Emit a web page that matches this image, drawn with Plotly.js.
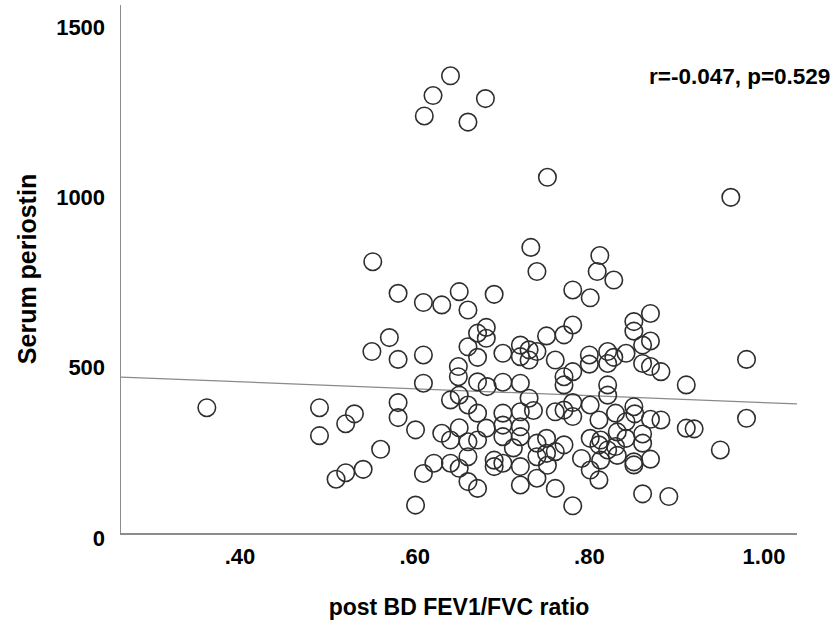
<!DOCTYPE html>
<html>
<head>
<meta charset="utf-8">
<script src="https://cdn.plot.ly/plotly-3.0.1.min.js"></script>
<style>html,body{margin:0;padding:0;background:#fff;}#chart{width:835px;height:620px;}</style>
</head>
<body>
<div id="chart"></div>
<script>
// post BD FEV1/FVC ratio
const fevRatio = [
  0.362, 0.491, 0.491, 0.521, 0.531, 0.510, 0.521, 0.541, 0.561, 0.551, 0.552, 0.571, 0.581, 0.581, 0.581, 0.581,
  0.601, 0.601, 0.610, 0.610, 0.610, 0.610, 0.611, 0.621, 0.622,
  0.631, 0.641, 0.631, 0.641, 0.641, 0.641, 0.651, 0.650, 0.650, 0.651, 0.651, 0.651, 0.661, 0.661, 0.661, 0.661, 0.661, 0.661, 0.661,
  0.672, 0.672, 0.672, 0.672, 0.672, 0.672, 0.682, 0.682, 0.683, 0.682, 0.681, 0.691, 0.691, 0.691,
  0.701, 0.701, 0.701, 0.701, 0.701, 0.701, 0.721, 0.721, 0.721, 0.721, 0.721, 0.721, 0.721, 0.721, 0.713,
  0.731, 0.731, 0.731, 0.733, 0.740, 0.740, 0.740, 0.740, 0.740, 0.751, 0.751, 0.751, 0.752, 0.761, 0.761, 0.761, 0.761, 0.736, 0.752,
  0.771, 0.771, 0.771, 0.771, 0.771, 0.781, 0.781, 0.781, 0.781, 0.781, 0.781, 0.791,
  0.801, 0.800, 0.800, 0.801, 0.801, 0.801, 0.809, 0.812, 0.811, 0.811, 0.811, 0.813, 0.813, 0.821, 0.821, 0.821, 0.821, 0.821, 0.828, 0.828, 0.830, 0.830, 0.832, 0.832,
  0.842, 0.842, 0.842, 0.851, 0.851, 0.851, 0.851, 0.851, 0.861, 0.861, 0.861, 0.861, 0.861, 0.870, 0.870, 0.870, 0.870, 0.870, 0.882, 0.882, 0.891, 0.852,
  0.911, 0.911, 0.920, 0.950, 0.962, 0.980, 0.980
];
// Serum periostin
const periostin = [
  368, 368, 286, 321, 350, 158, 177, 187, 246, 533, 797, 574, 510, 704, 383, 339,
  303, 82, 677, 523, 440, 175, 1225, 1285, 205,
  670, 1343, 293, 273, 391, 205, 709, 489, 459, 405, 309, 190, 655, 547, 376, 268, 224, 151, 1207,
  587, 516, 444, 352, 273, 131, 604, 572, 430, 308, 1276, 701, 214, 195,
  528, 443, 352, 317, 283, 205, 552, 518, 440, 356, 312, 283, 195, 141, 250,
  538, 508, 396, 839, 533, 768, 264, 224, 161, 579, 278, 234, 1045, 508, 356, 239, 131, 360, 199,
  582, 459, 435, 361, 259, 714, 611, 474, 383, 342, 80, 219,
  691, 523, 496, 376, 278, 185, 768, 815, 332, 259, 156, 214, 273, 533, 498, 435, 405, 244, 743, 516, 352, 254, 297, 228,
  528, 327, 278, 621, 593, 371, 209, 200, 552, 498, 291, 264, 115, 645, 564, 489, 334, 217, 474, 332, 107, 350,
  435, 308, 306, 244, 986, 510, 337
];
// Fit line
const fitIntercept = 484.9;
const fitSlope = -101.9;
const annotationText = "r=-0.047, p=0.529";
const xTickVals = [0.4, 0.6, 0.8, 1.0];
const xTickText = [".40", ".60", ".80", "1.00"];
const yTickVals = [0, 500, 1000, 1500];
const yTickText = ["0", "500", "1000", "1500"];

const xRange = [0.2637, 1.0378];
const yRange = [0, 1551];

const fitX = xRange.slice();
const fitY = fitX.map(v => fitIntercept + fitSlope * v);

const FONT = "Liberation Sans, Arial, sans-serif";

const traces = [
  {
    x: fitX, y: fitY, type: "scatter", mode: "lines",
    line: {color: "#8a8a8a", width: 1.3},
    hoverinfo: "skip", showlegend: false, cliponaxis: true
  },
  {
    x: fevRatio, y: periostin, type: "scatter", mode: "markers",
    marker: {symbol: "circle-open", size: 17.5, color: "#2e2e2e", line: {width: 1.6, color: "#2e2e2e"}},
    showlegend: false, cliponaxis: false
  }
];

const layout = {
  width: 835, height: 620,
  margin: {l: 121, r: 38, t: 5, b: 87},
  paper_bgcolor: "#ffffff", plot_bgcolor: "#ffffff",
  showlegend: false,
  font: {family: FONT, color: "#000"},
  xaxis: {
    range: xRange, tickvals: xTickVals, ticktext: xTickText,
    showgrid: false, zeroline: false, showline: true, linecolor: "#8c8c8c", linewidth: 1.5,
    ticks: "", ticklabelstandoff: 3,
    tickfont: {family: FONT, size: 22, color: "#000", weight: "bold"},
    title: {text: "post BD FEV1/FVC ratio", font: {family: FONT, size: 23, color: "#000", weight: "bold"}, standoff: 33},
    automargin: false
  },
  yaxis: {
    range: yRange, tickvals: yTickVals, ticktext: yTickText,
    showgrid: false, zeroline: false, showline: true, linecolor: "#8c8c8c", linewidth: 1.5,
    ticks: "", ticklabelstandoff: 10, ticklabelshift: 5,
    tickfont: {family: FONT, size: 22, color: "#000", weight: "bold"},
    title: {text: "Serum periostin", font: {family: FONT, size: 25, color: "#000", weight: "bold"}, standoff: 12},
    automargin: false
  },
  annotations: [{
    text: annotationText, xref: "paper", yref: "paper",
    x: 1.0518, y: 0.8655, xanchor: "right", yanchor: "middle",
    showarrow: false, font: {family: FONT, size: 22.5, color: "#000", weight: "bold"}
  }]
};

Plotly.newPlot("chart", traces, layout, {displayModeBar: false, staticPlot: true});
</script>
</body>
</html>
